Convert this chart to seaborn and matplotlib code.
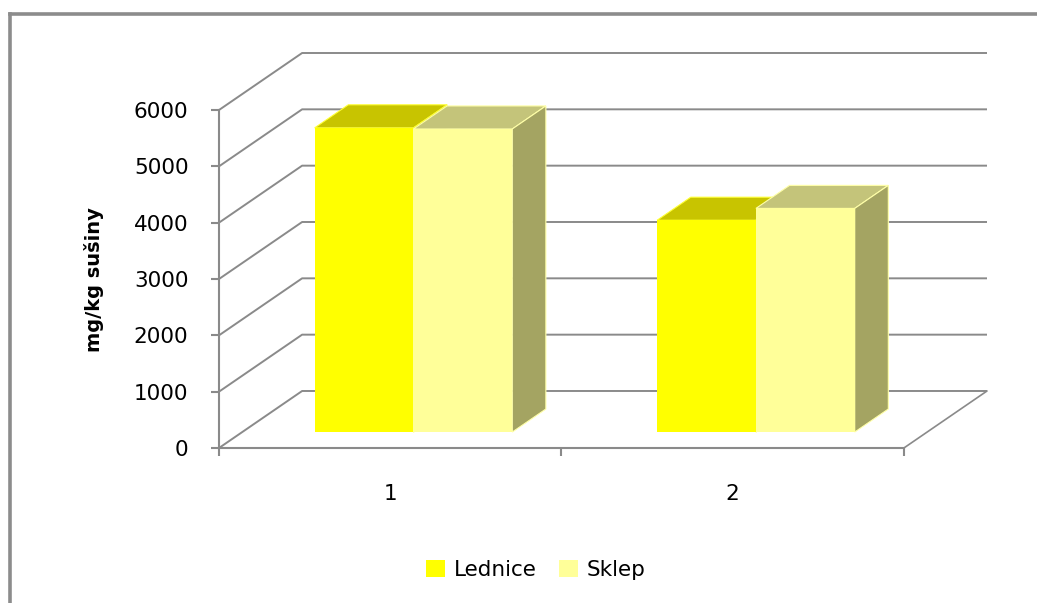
import matplotlib
matplotlib.use("Agg")
import matplotlib.pyplot as plt
from matplotlib.patches import Polygon, Patch
from matplotlib.lines import Line2D
import numpy as np
import pandas as pd
import seaborn as sns

# --- data -------------------------------------------------------------
categories = ["1", "2"]
series = ["Lednice", "Sklep"]
lednice = [5400, 3760]
sklep = [5380, 3970]
y_ticks = [0, 1000, 2000, 3000, 4000, 5000, 6000]
y_label = "mg/kg sušiny"

# --- style ------------------------------------------------------------
sns.set_theme(style="white")
plt.rcParams["font.family"] = ["DejaVu Sans"]
plt.rcParams["text.color"] = "black"

front_colors = {"Lednice": "#FFFF00", "Sklep": "#FFFF99"}
top_colors = {"Lednice": "#C8C400", "Sklep": "#C4C47A"}
side_colors = {"Lednice": "#A0A000", "Sklep": "#A4A462"}
edge_colors = {"Lednice": "#FFFF33", "Sklep": "#FFFFA8"}
grid_color = "#8A8A8A"

# oblique depth of the chart box (category units, value units)
DX, DY = 0.2427, 1012.0
# bar front / back plane as fraction of the depth
F_FRONT, F_BACK = 0.28, 0.684

df = pd.DataFrame({
    "kategorie": categories * len(series),
    "hodnota": lednice + sklep,
    "serie": np.repeat(series, len(categories)),
})

fig = plt.figure(figsize=(10.37, 6.03), dpi=100)
W, H = 1037, 603
ax = fig.add_axes([219 / W, 1 - 448 / H, (987 - 219) / W, (448 - 53) / H])
ax.set_facecolor("none")

sns.barplot(data=df, x="kategorie", y="hodnota", hue="serie",
            palette=front_colors, width=0.577, saturation=1,
            legend=False, ax=ax, linewidth=0)

ymax = y_ticks[-1]
ax.set_xlim(-0.5, len(categories) - 0.5 + DX)
ax.set_ylim(0, ymax + DY)

# walls: gridlines on the left side wall and the back wall
x0, x1 = -0.5, len(categories) - 0.5
for v in y_ticks:
    ax.plot([x0, x0 + DX, x1 + DX], [v, v + DY, v + DY],
            color=grid_color, lw=1.4, zorder=1, clip_on=False,
            solid_capstyle="butt")
# right edge of the floor
ax.plot([x1, x1 + DX], [0, DY], color=grid_color, lw=1.2, zorder=1,
        clip_on=False)

# turn flat bars into boxes
for container, name in zip(ax.containers, series):
    z = 3 if name == series[0] else 4
    for p in container.patches:
        x, w, h = p.get_x(), p.get_width(), p.get_height()
        fx, fy = F_FRONT * DX, F_FRONT * DY
        bx, by = F_BACK * DX, F_BACK * DY
        p.set_x(x + fx)
        p.set_y(fy)
        p.set_zorder(z + 0.2)
        top = Polygon([(x + fx, h + fy), (x + w + fx, h + fy),
                       (x + w + bx, h + by), (x + bx, h + by)],
                      closed=True, facecolor=top_colors[name],
                      edgecolor=edge_colors[name], lw=0.8, zorder=z)
        side = Polygon([(x + w + fx, fy), (x + w + bx, by),
                        (x + w + bx, h + by), (x + w + fx, h + fy)],
                       closed=True, facecolor=side_colors[name],
                       edgecolor=edge_colors[name], lw=0.8, zorder=z)
        ax.add_patch(top)
        ax.add_patch(side)

# axes and ticks
for s in ["top", "right"]:
    ax.spines[s].set_visible(False)
ax.spines["left"].set_bounds(0, ymax)
ax.spines["bottom"].set_bounds(x0, x1)
for s in ["left", "bottom"]:
    ax.spines[s].set_color(grid_color)
    ax.spines[s].set_linewidth(1.5)
    ax.spines[s].set_zorder(2)

ax.set_yticks(y_ticks)
ax.set_yticklabels([str(t) for t in y_ticks])
ax.tick_params(axis="y", which="major", left=True, length=6, width=1.5,
               color=grid_color, pad=16, labelsize=15.5, labelcolor="black")

ax.set_xticks([x0 + i for i in range(len(categories) + 1)])
ax.set_xticklabels([])
ax.set_xticks(range(len(categories)), minor=True)
ax.set_xticklabels(categories, minor=True)
ax.tick_params(axis="x", which="major", bottom=True, length=6, width=1.5,
               color=grid_color)
ax.tick_params(axis="x", which="minor", bottom=True, length=0, pad=26,
               labelsize=15.5, labelcolor="black")

ax.set_xlabel("")
ax.set_ylabel(y_label, fontsize=14, fontweight="bold", color="black")
ax.yaxis.set_label_coords((104 - 219) / (987 - 219), (448 - 280) / (448 - 53))

# legend
handles = [Patch(facecolor=front_colors[s], edgecolor="none") for s in series]
fig.legend(handles, series, loc="center", bbox_to_anchor=(536 / W, 1 - 570 / H),
           ncol=len(series), frameon=False, fontsize=15.5, labelcolor="black",
           handlelength=0.88, handleheight=0.8, handletextpad=0.42,
           columnspacing=1.0)

# outer frame (open to the right and bottom)
frame = dict(color="#8C8C8C", lw=2.6, transform=fig.transFigure,
             solid_capstyle="projecting")
fig.add_artist(Line2D([10 / W, 10 / W], [0, 1 - 14 / H], **frame))
fig.add_artist(Line2D([10 / W, 1.0], [1 - 14 / H, 1 - 14 / H], **frame))

fig.savefig("out.png", dpi=100, facecolor="white")
